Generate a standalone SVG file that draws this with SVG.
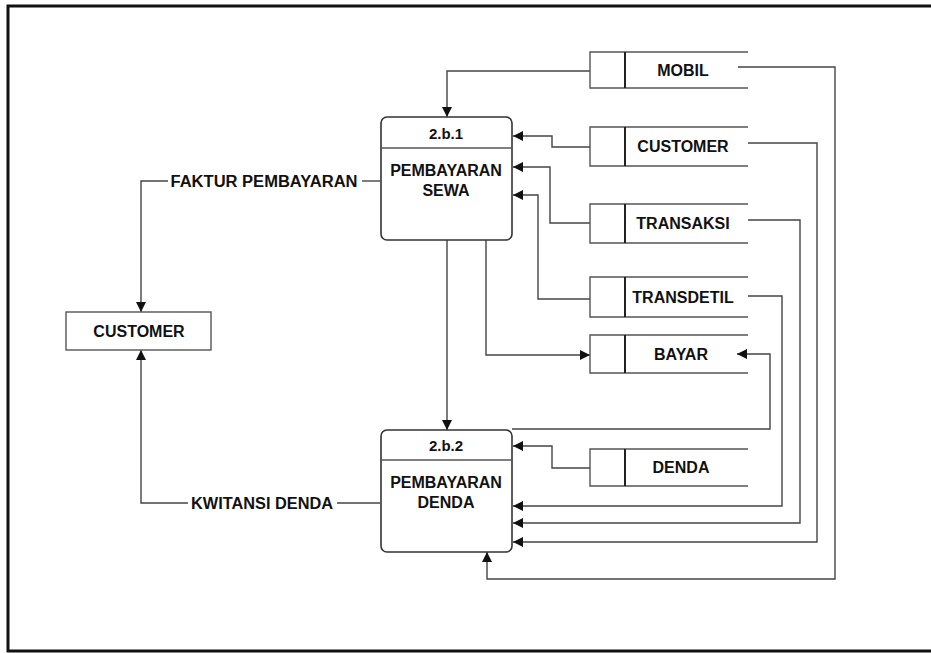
<svg xmlns="http://www.w3.org/2000/svg" width="931" height="653" viewBox="0 0 931 653">
<style>
.t{font-family:"Liberation Sans",Arial,sans-serif;font-weight:bold;font-size:16px;fill:#111;text-anchor:middle}
.s{font-size:15px}
.box{fill:#fff;stroke:#333;stroke-width:1.6}
.ln{fill:none;stroke:#444;stroke-width:1.4}
.st{fill:none;stroke:#555;stroke-width:1.4}
.stv{fill:none;stroke:#222;stroke-width:2}
</style>
<defs>
<marker id="ah" viewBox="0 0 10 10" refX="10" refY="5" markerWidth="11" markerHeight="10" markerUnits="userSpaceOnUse" orient="auto">
<path d="M0,0 L10,5 L0,10 z" fill="#111"/>
</marker>
</defs>
<rect x="0" y="0" width="931" height="653" fill="#fff"/>
<rect x="8" y="6" width="930" height="645" fill="none" stroke="#111" stroke-width="3"/>

<g id="connectors">
<path class="ln" d="M590,71 H447 V117" marker-end="url(#ah)"/>
<path class="ln" d="M590,147 H552 V136 H513" marker-end="url(#ah)"/>
<path class="ln" d="M590,223 H550 V167 H513" marker-end="url(#ah)"/>
<path class="ln" d="M590,299 H538 V195 H513" marker-end="url(#ah)"/>
<path class="ln" d="M486,240 V355 H590" marker-end="url(#ah)"/>
<path class="ln" d="M447,240 V430" marker-end="url(#ah)"/>
<path class="ln" d="M512,429 H770 V354 H737" marker-end="url(#ah)"/>
<path class="ln" d="M590,468 H552 V446 H513" marker-end="url(#ah)"/>
<path class="ln" d="M748,296 H782 V506 H513" marker-end="url(#ah)"/>
<path class="ln" d="M748,220 H800 V523 H513" marker-end="url(#ah)"/>
<path class="ln" d="M748,143 H817 V542 H513" marker-end="url(#ah)"/>
<path class="ln" d="M738,67 H835 V579 H487 V552" marker-end="url(#ah)"/>
<path class="ln" d="M380,181 H362"/>
<path class="ln" d="M168,181 H141 V312" marker-end="url(#ah)"/>
<path class="ln" d="M380,503 H337"/>
<path class="ln" d="M188,503 H141 V350" marker-end="url(#ah)"/>
<text class="t" x="264" y="187" textLength="187" lengthAdjust="spacingAndGlyphs">FAKTUR PEMBAYARAN</text>
<text class="t" x="262" y="509" textLength="142" lengthAdjust="spacingAndGlyphs">KWITANSI DENDA</text>
</g>

<g id="p251">
<rect class="box" x="381" y="117" width="131" height="123" rx="6"/>
<line class="st" x1="381" y1="148" x2="512" y2="148"/>
<text class="t s" x="446" y="139">2.b.1</text>
<text class="t" x="446" y="176">PEMBAYARAN</text>
<text class="t" x="446" y="196">SEWA</text>
</g>

<g id="p252">
<rect class="box" x="381" y="430" width="131" height="122" rx="6"/>
<line class="st" x1="381" y1="460" x2="512" y2="460"/>
<text class="t s" x="446" y="451">2.b.2</text>
<text class="t" x="446" y="488">PEMBAYARAN</text>
<text class="t" x="446" y="508">DENDA</text>
</g>

<g id="customer-ext">
<rect x="66" y="312" width="145" height="38" fill="#fff" stroke="#555" stroke-width="1.4"/>
<text class="t" x="139" y="337">CUSTOMER</text>
</g>

<g id="ds-mobil">
<path class="st" d="M748,52 H590 V88 H748"/>
<line class="stv" x1="625" y1="52" x2="625" y2="88"/>
<text class="t" x="683" y="76">MOBIL</text>
</g>
<g id="ds-customer">
<path class="st" d="M748,127 H590 V166 H748"/>
<line class="stv" x1="625" y1="127" x2="625" y2="166"/>
<text class="t" x="683" y="152">CUSTOMER</text>
</g>
<g id="ds-transaksi">
<path class="st" d="M748,204 H590 V243 H748"/>
<line class="stv" x1="625" y1="204" x2="625" y2="243"/>
<text class="t" x="683" y="229">TRANSAKSI</text>
</g>
<g id="ds-transdetil">
<path class="st" d="M748,277 H590 V317 H748"/>
<line class="stv" x1="625" y1="277" x2="625" y2="317"/>
<text class="t" x="683" y="303">TRANSDETIL</text>
</g>
<g id="ds-bayar">
<path class="st" d="M748,335 H590 V373 H748"/>
<line class="stv" x1="625" y1="335" x2="625" y2="373"/>
<text class="t" x="681" y="360">BAYAR</text>
</g>
<g id="ds-denda">
<path class="st" d="M748,449 H590 V486 H748"/>
<line class="stv" x1="625" y1="449" x2="625" y2="486"/>
<text class="t" x="681" y="473">DENDA</text>
</g>
</svg>
